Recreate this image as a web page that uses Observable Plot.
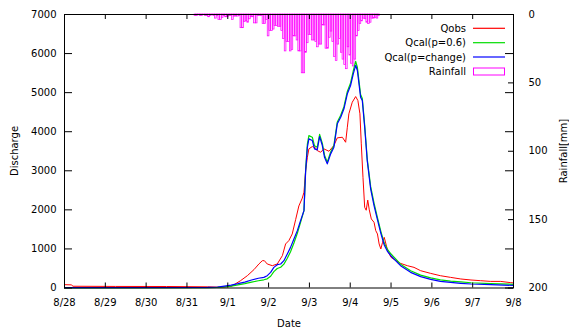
<!DOCTYPE html>
<html><head><meta charset="utf-8">
<script src="https://cdn.jsdelivr.net/npm/d3@7"></script>
<script src="https://cdn.jsdelivr.net/npm/@observablehq/plot@0.6"></script>
<style>
body{margin:0;background:#fff}
#chart svg{font-family:"DejaVu Sans",sans-serif;}
</style>
</head><body><div id="chart"></div>
<script>
// ---- data ----
const dateLabels = ["8/28","8/29","8/30","8/31","9/1","9/2","9/3","9/4","9/5","9/6","9/7","9/8"];
const dischargeTicks = [0,1000,2000,3000,4000,5000,6000,7000];
const rainTicks = [0,50,100,150,200];
const seriesNames = ["Qobs","Qcal(p=0.6)","Qcal(p=change)","Rainfall"];

// hours since 8/28 00:00
const obsHour = [0,4,5,30,60,84,92,98,103.5,107.5,111.4,114.3,116.3,117.5,119.2,122.2,125.1,128.1,130,131.9,133.9,135.9,137.8,139.8,140.8,141.8,142.8,143.7,145.7,147.6,148.6,150.6,152.5,155.5,158.4,160.4,163.4,165.3,166.3,167.2,169.2,171.2,172.5,173.7,174.5,175.5,176.5,177.4,178.3,179.2,180.4,182,183,184,185,186,187,188,190,192,195,197.6,201.6,205.5,209.4,215.3,221,227,233,239,244.7,250.6,256.5,262.4,264];
const obsQ = [85,80,45,40,38,30,20,40,187,315,470,615,699,700,615,571,615,828,1127,1212,1383,1750,2100,2300,2450,3005,3346,3561,3620,3587,3518,3474,3561,3500,3646,3843,3858,3730,4114,4458,4755,4900,4798,4458,3689,2834,2065,1990,2250,2000,1768,1681,1468,1383,1127,999,1168,1296,956,784,699,630,571,528,443,374,315,272,231,205,187,169,169,136,130];

const calHour = [0,84,90,94,98,102,106,110,114,117.2,119.2,121.2,123.1,125.1,127.1,129,131,132.9,134.9,136.9,138.8,140.8,141.8,142.8,143.7,145.7,147,148.6,150,151.6,152.9,154.5,156.5,158.4,160.4,162.4,164.3,166.3,168.2,169.8,171.2,172.2,174.1,175.1,176.5,178,180,182,184,186,188,190,192,197.6,203.5,209.4,215.3,221,227,233,239,250.6,264];
const p06Q = [5,10,15,30,50,80,110,150,185,210,235,300,420,500,530,610,760,930,1150,1400,1680,1980,3050,3680,3900,3860,3640,3600,3930,3700,3400,3220,3480,3650,4250,4420,4640,5030,5250,5560,5800,5650,4950,4850,4170,3300,2600,2170,1800,1450,1150,980,870,610,440,330,260,210,178,155,135,112,95];
const chgQ = [10,15,25,50,75,110,150,205,250,272,315,400,528,597,615,699,871,1040,1255,1468,1724,1980,3005,3602,3817,3774,3561,3536,3876,3646,3346,3177,3433,3602,4202,4371,4586,4970,5183,5482,5700,5567,4883,4798,4115,3261,2540,2110,1750,1400,1100,930,820,571,400,290,220,169,143,120,102,85,65];

// hourly rainfall [mm], first value at hour 77
const rainStartHour = 77;
const rainMm = [1,1,0.5,1,1,0.5,1,1,2,1,0.5,1,3,1,4,4,2.5,1,2,2,1,1,4,1.5,1.5,1.5,1,10,10,5.5,5,6,3.5,2,2,6.5,6.5,1,1,1,7,7,4,16,12,12,11,8.5,8.5,9,9,12,18,27,20,20,27,26,16,16,19,27,27,43,43,28,21,15,15,19,19,20,24,22,22,8,8,25,25,17,12.5,20,31,34,22,18,28,33,37,40,24,30,36,38,33,16,12,7,5,3,3.5,6,7,6,3,3,2.5,3,1];

// ---- build ----
const qMax = 7000, rainMax = 200, k = qMax / rainMax;
const rainToQ = mm => qMax - mm * k;
const dayTicks = dateLabels.map((_, i) => i * 24);
const obs = obsHour.map((h, i) => ({h, q: obsQ[i]}));
const p06 = calHour.map((h, i) => ({h, q: p06Q[i]}));
const chg = calHour.map((h, i) => ({h, q: chgQ[i]}));
const rain = rainMm.map((mm, i) => ({h: rainStartHour + i, mm}));

const W = 569, H = 333, mL = 64, mR = 56, mT = 14, mB = 45.5;
const pw = W - mL - mR, ph = H - mT - mB;
const col = {obs: "#ff0000", p06: "#00dd00", chg: "#0000ff", rain: "#ff00ff"};

const chart = Plot.plot({
  width: W, height: H, marginLeft: mL, marginRight: mR, marginTop: mT, marginBottom: mB,
  style: {fontFamily: "DejaVu Sans, sans-serif", fontSize: "10px", color: "#000", background: "#fff", overflow: "visible"},
  x: {domain: [0, 264]},
  y: {domain: [0, qMax]},
  marks: [
    Plot.rectY(rain, {x1: d => d.h - 0.5, x2: d => d.h + 0.5, y1: qMax, y2: d => rainToQ(d.mm), fill: "#ff9cff", fillOpacity: 0.5, stroke: col.rain, strokeWidth: 0.7}),
    Plot.line(obs, {x: "h", y: "q", stroke: col.obs, strokeWidth: 1}),
    Plot.line(p06, {x: "h", y: "q", stroke: col.p06, strokeWidth: 1.2}),
    Plot.line(chg, {x: "h", y: "q", stroke: col.chg, strokeWidth: 1.2}),
    // inward ticks
    Plot.tickX(dayTicks, {x: d => d, insetTop: ph - 5, stroke: "#000"}),
    Plot.tickX(dayTicks, {x: d => d, insetBottom: ph - 5, stroke: "#000"}),
    Plot.tickY(dischargeTicks, {y: d => d, insetRight: pw - 8, stroke: "#000"}),
    Plot.tickY(dischargeTicks, {y: d => d, insetLeft: pw - 8, stroke: "#000"}),
    Plot.tickY(rainTicks.map(rainToQ), {y: d => d, insetLeft: pw - 5, stroke: "#000"}),
    // labels
    Plot.axisX({ticks: dayTicks, tickFormat: (d, i) => dateLabels[i], tickSize: 0, tickPadding: 11, label: null}),
    Plot.axisY({ticks: dischargeTicks, tickFormat: d => String(d), tickSize: 0, tickPadding: 8, label: null}),
    Plot.axisY({anchor: "right", ticks: rainTicks.map(rainToQ), tickFormat: (d, i) => String(rainTicks[i]), tickSize: 0, tickPadding: 15, textAnchor: "start", label: null}),
    Plot.frame({stroke: "#000"})
  ]
});
document.getElementById("chart").appendChild(chart);

// axis titles and legend
const svg = d3.select(chart);
const g = svg.append("g").attr("font-family", "DejaVu Sans, sans-serif").attr("font-size", 10).attr("fill", "#000");
g.append("text").attr("transform", "translate(14,151) rotate(-90)").attr("text-anchor", "middle").attr("dy", "0.35em").text("Discharge");
g.append("text").attr("transform", "translate(563,151) rotate(-90)").attr("text-anchor", "middle").attr("dy", "0.35em").text("Rainfall[mm]");
g.append("text").attr("x", 289).attr("y", 323).attr("text-anchor", "middle").attr("dy", "0.35em").text("Date");

const legRows = [28.3, 42.7, 57, 71.5];
const legCols = [col.obs, col.p06, col.chg, col.rain];
seriesNames.forEach((name, i) => {
  const y = legRows[i];
  g.append("text").attr("x", 466).attr("y", y).attr("text-anchor", "end").attr("dy", "0.35em").text(name);
  if (i < 3) {
    g.append("line").attr("x1", 473).attr("x2", 505).attr("y1", y).attr("y2", y).attr("stroke", legCols[i]).attr("stroke-width", 1.2);
  } else {
    g.append("rect").attr("x", 473.5).attr("y", y - 3.5).attr("width", 31).attr("height", 7).attr("fill", "none").attr("stroke", legCols[i]).attr("stroke-width", 1);
  }
});
</script>
</body></html>
